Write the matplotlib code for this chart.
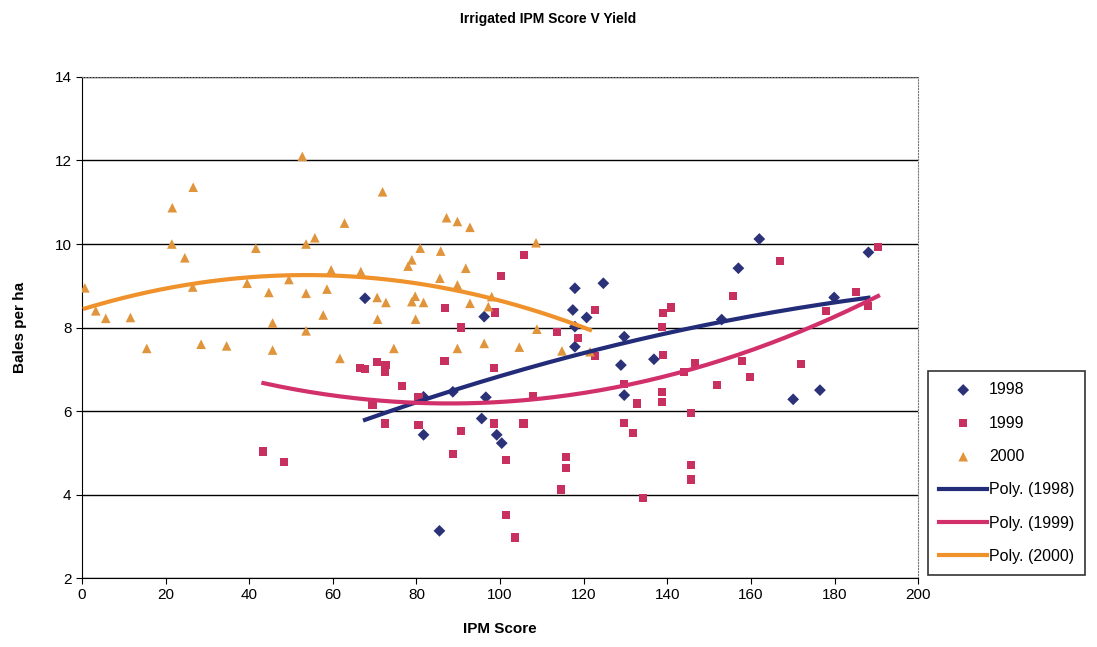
import numpy as np
import matplotlib
matplotlib.use("Agg")
import matplotlib.pyplot as plt

plt.rcParams['font.family'] = ['Liberation Sans', 'DejaVu Sans']

# 1998 (IPM score, bales per ha)
x98 = [67.7, 81.7, 81.7, 85.5, 88.7, 95.6, 96.2, 96.6, 99.2, 100.4, 117.4, 117.9, 117.9,
       117.9, 120.7, 124.7, 128.9, 129.7, 129.7, 136.8, 153.0, 157.0, 162.0, 170.1, 176.5,
       179.9, 188.1]
y98 = [8.70, 6.34, 5.43, 3.13, 6.46, 5.82, 8.26, 6.33, 5.43, 5.23, 8.42, 8.94, 8.02,
       7.54, 8.24, 9.06, 7.10, 7.78, 6.38, 7.24, 8.19, 9.42, 10.12, 6.28, 6.50,
       8.72, 9.80]

# 1999
x99 = [43.4, 48.4, 66.5, 67.7, 69.5, 70.5, 72.4, 72.5, 72.6, 76.5, 80.5, 80.5, 86.7,
       86.8, 88.7, 90.6, 90.7, 98.6, 98.6, 98.8, 100.3, 101.4, 101.4, 103.6, 105.6,
       105.8, 107.9, 113.7, 114.6, 115.7, 115.7, 118.7, 122.7, 122.7, 129.7, 129.7,
       131.7, 132.8, 134.1, 138.7, 138.7, 138.7, 138.9, 138.9, 140.8, 143.9, 145.7,
       145.7, 145.7, 146.7, 151.8, 155.8, 157.8, 159.8, 167.0, 172.0, 177.9, 185.1,
       188.1, 190.4]
y99 = [5.03, 4.77, 7.02, 7.00, 6.14, 7.18, 6.94, 5.70, 7.10, 6.60, 6.34, 5.66, 7.20,
       8.46, 4.98, 8.00, 5.52, 7.04, 5.70, 8.36, 9.23, 4.83, 3.52, 2.97, 5.70,
       9.74, 6.37, 7.90, 4.12, 4.89, 4.63, 7.74, 8.43, 7.32, 6.65, 5.72,
       5.47, 6.18, 3.91, 8.02, 6.46, 6.22, 8.34, 7.34, 8.48, 6.94, 5.96,
       4.71, 4.36, 7.14, 6.62, 8.75, 7.20, 6.82, 9.60, 7.12, 8.40, 8.86,
       8.52, 9.92]

# 2000
x00 = [0.7, 3.3, 5.7, 11.6, 15.5, 21.5, 21.6, 24.6, 26.5, 26.6, 28.5, 34.6, 39.5, 41.6,
       44.7, 45.6, 45.6, 49.5, 52.7, 53.6, 53.6, 53.6, 55.7, 57.7, 58.6, 59.6, 61.7,
       62.8, 66.7, 70.6, 70.7, 71.9, 72.7, 74.6, 78.0, 78.9, 78.9, 79.7, 79.8, 80.9,
       81.7, 85.6, 85.8, 87.2, 89.8, 89.8, 89.8, 91.8, 92.8, 92.8, 96.2, 97.2, 98.0,
       104.6, 108.6, 108.8, 114.8, 121.5]
y00 = [8.95, 8.40, 8.22, 8.24, 7.50, 10.00, 10.87, 9.67, 8.97, 11.36, 7.60, 7.56, 9.06, 9.90,
       8.84, 8.11, 7.46, 9.15, 12.10, 10.00, 8.82, 7.92, 10.15, 8.30, 8.92, 9.38, 7.26,
       10.50, 9.34, 8.72, 8.20, 11.25, 8.60, 7.50, 9.47, 9.62, 8.62, 8.75, 8.20, 9.90,
       8.60, 9.18, 9.83, 10.63, 10.54, 9.02, 7.50, 9.42, 10.40, 8.58, 7.62, 8.50, 8.74,
       7.53, 10.03, 7.96, 7.44, 7.42]

series = [
    ('1998', x98, y98, 'D', '#2c3278', '#232c78', 36),
    ('1999', x99, y99, 's', '#c8305f', '#d2306a', 34),
    ('2000', x00, y00, '^', '#e0953c', '#f0922c', 48),
]

fig = plt.figure(figsize=(10.97, 6.47), dpi=100)
ax = fig.add_axes([0.0747, 0.1066, 0.7623, 0.7744])

handles_pts = []
handles_fit = []
for name, xs, ys, mk, col, lcol, size in series:
    h = ax.scatter(xs, ys, marker=mk, s=size, color=col, edgecolors='none', zorder=3,
                   label=name)
    handles_pts.append(h)
# polynomial (order 2) trend lines, fitted to each year's points
for name, xs, ys, mk, col, lcol, size in series:
    c = np.polyfit(xs, ys, 2)
    xf = np.linspace(min(xs), max(xs), 200)
    l, = ax.plot(xf, np.polyval(c, xf), color=lcol, lw=3, zorder=4,
                 label='Poly. (%s)' % name)
    handles_fit.append(l)

ax.set_xlim(0, 200)
ax.set_ylim(2, 14)
ax.set_xticks(np.arange(0, 201, 20))
ax.set_yticks(np.arange(2, 15, 2))
ax.yaxis.grid(True, color='black', lw=1)
ax.set_axisbelow(True)
ax.tick_params(labelsize=11, direction='out', length=4, color='black')
for s in ['top', 'right']:
    ax.spines[s].set_linestyle(':')
    ax.spines[s].set_color('#777777')
ax.spines['bottom'].set_color('black')
ax.spines['left'].set_color('black')

ax.set_xlabel('IPM Score', fontsize=11, fontweight='bold', labelpad=14)
ax.set_ylabel('Bales per ha', fontsize=11, fontweight='bold', labelpad=20)
fig.text(0.5, 0.970, 'Irrigated IPM Score V Yield', ha='center', va='center',
         fontsize=10, fontweight='bold')

leg = fig.legend(handles_pts + handles_fit,
                 [h.get_label() for h in handles_pts + handles_fit],
                 loc='lower left', bbox_to_anchor=(0.846, 0.111), fontsize=11.5,
                 frameon=True, fancybox=False, edgecolor='black', handlelength=3.0,
                 handletextpad=0.1, labelspacing=1.15, borderpad=0.7, borderaxespad=0)
leg.get_frame().set_linewidth(1.2)

fig.savefig('out.png', dpi=100)
